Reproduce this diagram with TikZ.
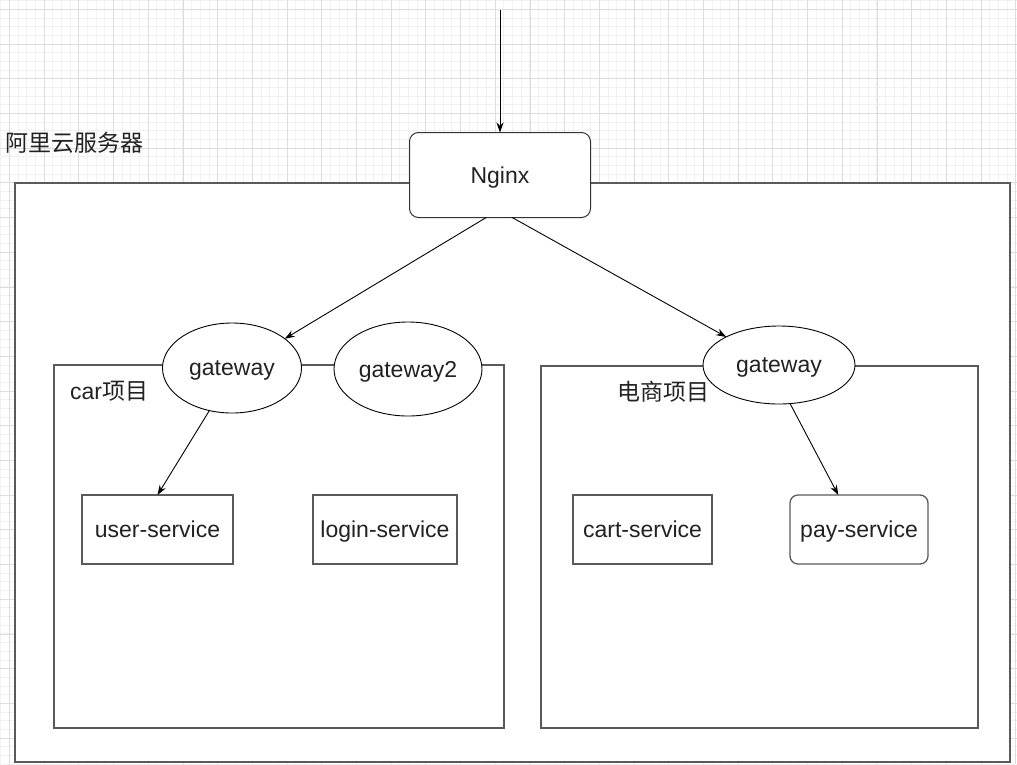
\documentclass[tikz,border=0pt]{standalone}
\usepackage{fontspec}
\setmainfont{Liberation Sans}
\newfontfamily\cjk{Noto Sans CJK SC}
\usepackage{tikz}
\usetikzlibrary{shapes.geometric}
\usetikzlibrary{arrows.meta}
\definecolor{gridminor}{HTML}{F1F1F1}
\definecolor{gridmajor}{HTML}{DDDDDD}
\definecolor{framegray}{HTML}{5A5A5A}
\definecolor{inkgray}{HTML}{222222}
\tikzstyle{frame} = [rectangle, draw=framegray, line width=1.6pt, fill=white,
    inner sep=0pt, outer sep=0pt]
\tikzstyle{block} = [rectangle, draw=framegray, line width=1.3pt, fill=white,
    inner sep=0pt, outer sep=0pt, minimum height=69pt, text=inkgray, text depth=0pt]
\tikzstyle{portal} = [ellipse, draw=black, line width=0.9pt, fill=white,
    inner sep=0pt, outer sep=0pt, text=inkgray, text depth=0pt]
\tikzstyle{line} = [draw, line width=0.9pt, -{Stealth[length=10pt,width=7pt]}]

\begin{document}
\begin{tikzpicture}[x=1pt, y=-1pt, font=\fontsize{23}{27}\selectfont]
  \useasboundingbox (0,0) rectangle (1017,764);
  % background grid
  \fill[white] (0,0) rectangle (1017,764);
  \foreach \i in {0,...,117} {
    \draw[gridminor, line width=0.8pt] ({0.7+8.675*\i},0) -- ({0.7+8.675*\i},764);
  }
  \foreach \i in {0,...,88} {
    \draw[gridminor, line width=0.8pt] (0,{0.6+8.675*\i}) -- (1017,{0.6+8.675*\i});
  }
  \foreach \i in {0,...,29} {
    \draw[gridmajor, line width=0.8pt] ({9.4+34.7*\i},0) -- ({9.4+34.7*\i},764);
  }
  \foreach \i in {0,...,22} {
    \draw[gridmajor, line width=0.8pt] (0,{9.3+34.7*\i}) -- (1017,{9.3+34.7*\i});
  }
  % containers
  \node [frame, minimum width=995pt, minimum height=579pt] (server) at (512.5,472.5) {};
  \node [text=inkgray, anchor=west] (serverlabel) at (2,143) {\cjk 阿里云服务器};
  \node [frame, line width=1.3pt, minimum width=450pt, minimum height=363pt] (carbox) at (279,546.5) {};
  \node [frame, line width=1.3pt, minimum width=437pt, minimum height=362pt] (shopbox) at (759.5,547) {};
  \node [text=inkgray, anchor=west, inner sep=0pt] (carlabel) at (70,391) {car{\cjk 项目}};
  \node [text=inkgray, anchor=west, inner sep=0pt] (shoplabel) at (617,392) {\cjk 电商项目};
  % nodes
  \coordinate (client) at (500,10);
  \node [block, rounded corners=9pt, line width=1pt, draw=black!80, minimum width=181pt, minimum height=85pt] (nginx) at (500,175) {Nginx};
  \node [portal, minimum width=139pt, minimum height=90pt] (gwcar) at (232,368) {gateway};
  \node [portal, minimum width=148pt, minimum height=94pt] (gwcar2) at (408,369) {gateway2};
  \node [portal, minimum width=152pt, minimum height=78pt] (gwshop) at (779,365) {gateway};
  \node [block, minimum width=151pt] (user) at (157.5,529.5) {user-service};
  \node [block, minimum width=144pt] (login) at (385,529.5) {login-service};
  \node [block, minimum width=139pt] (cart) at (642.5,529.5) {cart-service};
  \node [block, rounded corners=8pt, minimum width=138pt] (pay) at (859,529.5) {pay-service};
  % edges
  \path [line] (client) -- (nginx.north);
  \path [line] (nginx.-108) -- (gwcar.29);
  \path [line] (nginx.-74) -- (gwshop.152.6);
  \path [line] (gwcar.-118.6) -- (user.north);
  \path [line] (gwshop.-74) -- (pay.121);
\end{tikzpicture}
\end{document}
